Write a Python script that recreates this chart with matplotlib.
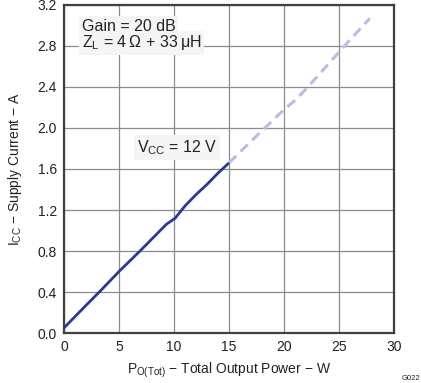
import matplotlib
matplotlib.use("Agg")
import matplotlib.pyplot as plt

plt.rcParams["font.family"] = ["Liberation Sans", "DejaVu Sans"]
plt.rcParams["mathtext.fontset"] = "custom"
plt.rcParams["mathtext.rm"] = "Liberation Sans"
plt.rcParams["mathtext.it"] = "Liberation Sans"

# measured curve (solid) and extrapolated part (dashed)
p_solid = [0, 1, 2, 3.3, 5, 7, 9.3, 10.1, 11.0, 12, 13, 14, 15]
i_solid = [0.05, 0.16, 0.27, 0.41, 0.60, 0.81, 1.06, 1.12, 1.24, 1.35, 1.45, 1.56, 1.66]
p_dash = [15, 17, 20, 21, 22, 24, 26, 27.8]
i_dash = [1.66, 1.87, 2.18, 2.27, 2.38, 2.62, 2.86, 3.07]

x_ticks = [0, 5, 10, 15, 20, 25, 30]
y_ticks = [0.0, 0.4, 0.8, 1.2, 1.6, 2.0, 2.4, 2.8, 3.2]

fig = plt.figure(figsize=(4.21, 3.83), dpi=100)
ax = fig.add_axes([0.152, 0.1305, 0.784, 0.8565])

ax.set_xlim(0, 30)
ax.set_ylim(0, 3.2)
ax.set_xticks(x_ticks)
ax.set_yticks(y_ticks)
ax.set_yticklabels([f"{v:.1f}" for v in y_ticks])
ax.tick_params(length=0, labelsize=10, colors="#222222", pad=5)
ax.grid(True, color="#8c8c8c", linewidth=0.9)
ax.set_axisbelow(True)
for s in ax.spines.values():
    s.set_color("#404040")
    s.set_linewidth(1.6)

ax.plot(p_dash, i_dash, color="#bcbce2", linewidth=2.2, dashes=(3.3, 2.0), zorder=3)
ax.plot(p_solid, i_solid, color="#2e3796", linewidth=2.0, zorder=4,
        solid_capstyle="butt")

box = dict(facecolor="#f5f5f5", edgecolor="none", pad=2)
ax.text(1.6, 2.99, "Gain = 20 dB", fontsize=11.5, va="center", color="#222222",
        bbox=box)
ax.text(1.6, 2.83, "Z$_\\mathregular{L}$ = 4\u2009Ω + 33\u2009μH", fontsize=11.5,
        va="center", color="#222222", bbox=box)
ax.text(6.6, 1.81, r"V$_\mathregular{CC}$ = 12 V", fontsize=11.5, va="center",
        color="#222222", bbox=box)

ax.set_xlabel(r"P$_\mathregular{O(Tot)}$ − Total Output Power − W",
              fontsize=10, color="#222222", labelpad=5)
ax.set_ylabel(r"I$_\mathregular{CC}$ − Supply Current − A",
              fontsize=10, color="#222222", labelpad=10)

fig.text(0.998, 0.003, "G022", fontsize=5.5, ha="right", va="bottom",
         color="#222222")

fig.savefig("out.png", dpi=100)
